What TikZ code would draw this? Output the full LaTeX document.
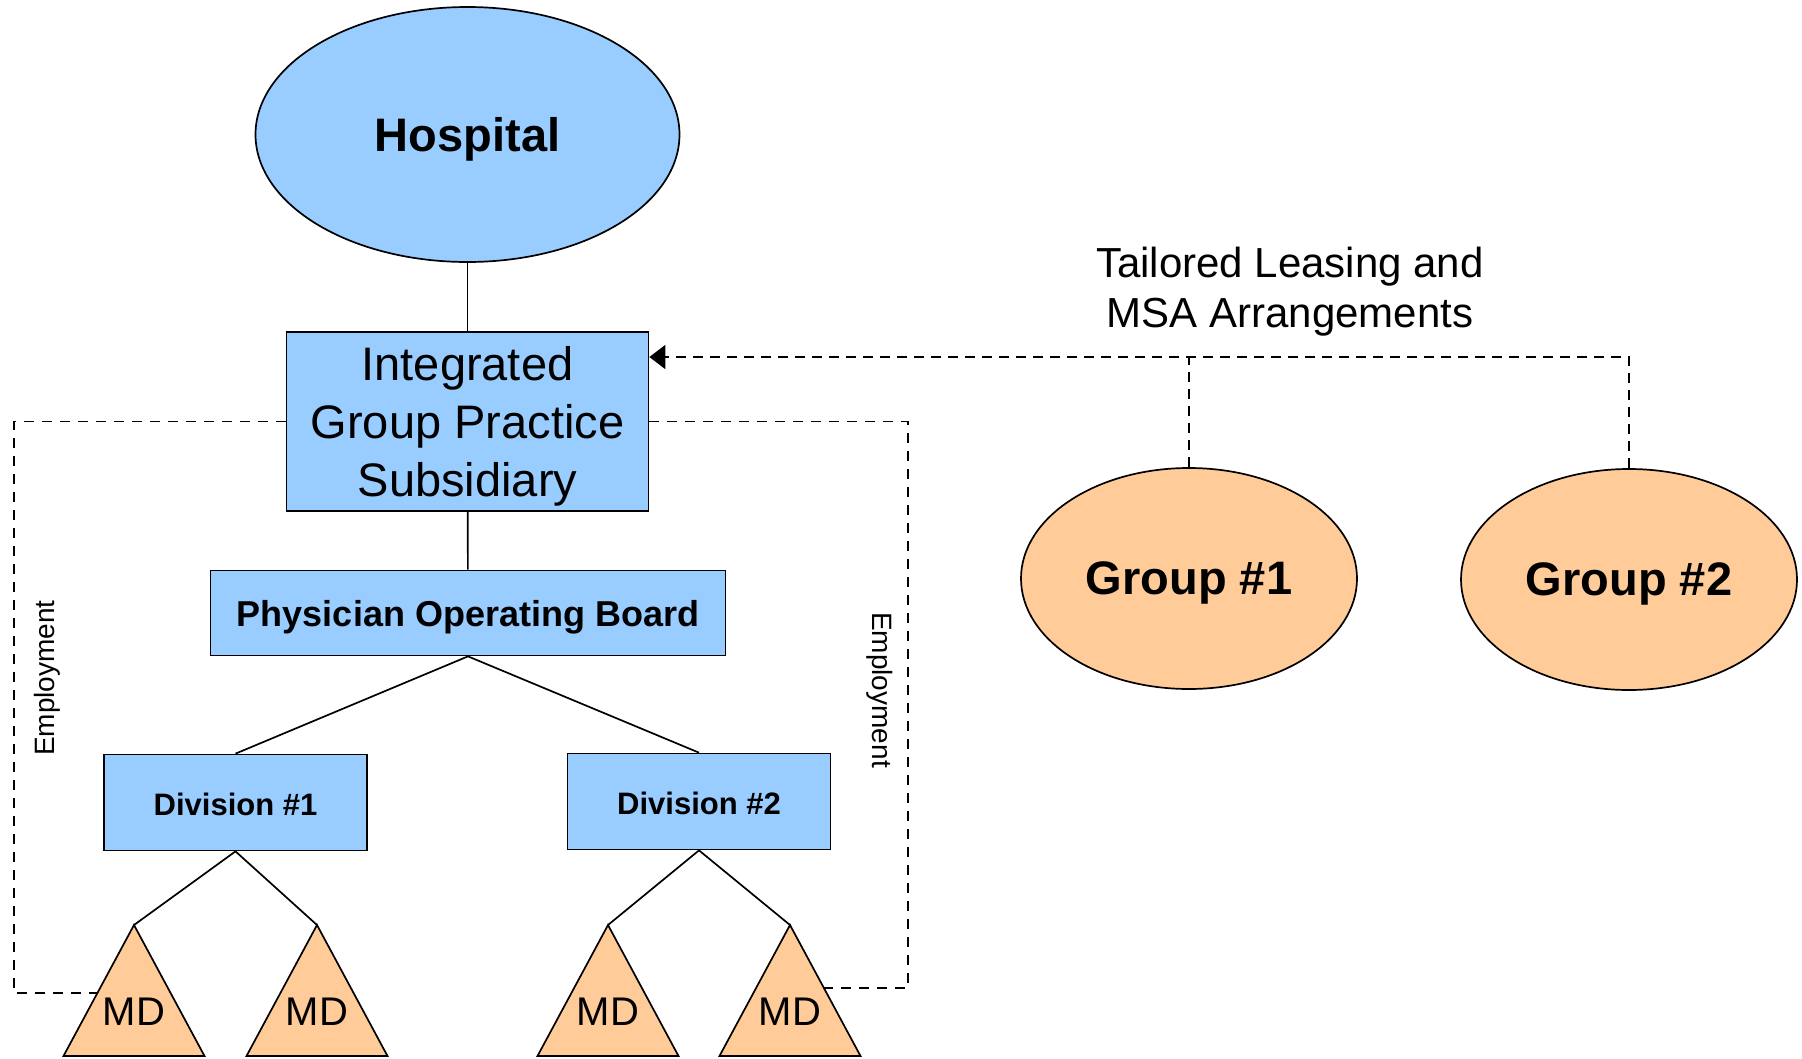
\documentclass[tikz,border=0pt]{standalone}
\usepackage{fontspec}
\setmainfont{Liberation Sans}
\usetikzlibrary{shapes.geometric,arrows.meta}

\definecolor{orgblue}{HTML}{99CCFF}
\definecolor{orgorange}{HTML}{FFCC99}
\newcommand{\sizedfont}[2]{\fontsize{#1}{#2}\selectfont}

\begin{document}
\begin{tikzpicture}[x=1pt, y=-1pt, line width=1.7pt, every node/.style={text depth=0pt},
    bluebox/.style={draw, fill=orgblue, rectangle, inner sep=0pt},
    divbox/.style={bluebox, minimum width=263pt, minimum height=96pt, text height=26pt, font=\sizedfont{31}{37}\bfseries},
    groupoval/.style={draw, fill=orgorange, ellipse, inner sep=0pt, minimum width=336pt, minimum height=221pt, font=\sizedfont{47}{56}\bfseries},
    mdtri/.style={draw, fill=orgorange, line join=miter},
    mdtext/.style={font=\sizedfont{40}{48}},
    emp/.style={dash pattern=on 10pt off 8pt},
    lease/.style={dash pattern=on 10pt off 7pt}]
    \useasboundingbox (0,0) rectangle (1802,1058);

    \node[draw, fill=orgblue, ellipse, inner sep=0pt, minimum width=424pt, minimum height=255pt,
          font=\sizedfont{47}{56}\bfseries] (hosp) at (467.5,134.5) {Hospital};
    \node[bluebox, minimum width=362pt, minimum height=179pt, align=center,
          font=\sizedfont{47}{58}] (igps) at (467.5,421.5) {Integrated\\Group Practice\\Subsidiary};
    \node[bluebox, minimum width=515pt, minimum height=85pt,
          font=\sizedfont{36}{43}\bfseries] (pob) at (468,613) {Physician Operating Board};
    \node[divbox] (div1) at (235.5,802.5) {Division \#1};
    \node[divbox] (div2) at (699,801.5) {Division \#2};
    \node[groupoval] (grp1) at (1189,578.5) {Group \#1};
    \node[groupoval] (grp2) at (1629,579.5) {Group \#2};

    \draw (hosp) -- (igps);
    \draw (igps) -- (pob);
    \draw (pob.south) -- (div1.north);
    \draw (pob.south) -- (div2.north);

    \draw[emp] (igps.west) -| (14,993) -- (134,993);
    \draw[emp] (igps.east) -| (908,988) -- (790,988);
    \node[rotate=90, font=\sizedfont{28}{34}] (empl) at (44,678) {Employment};
    \node[rotate=-90, font=\sizedfont{28}{34}] (empr) at (883,690) {Employment};

    \foreach \n/\x in {1/134, 2/317, 3/608, 4/790} {
        \filldraw[mdtri] (\x,925) coordinate (md\n) -- ++(70.5,131) -- ++(-141,0) -- cycle;
        \node[mdtext] (mdl\n) at (\x,1012) {MD};
    }
    \draw (div1.south) -- (md1);
    \draw (div1.south) -- (md2);
    \draw (div2.south) -- (md3);
    \draw (div2.south) -- (md4);

    \coordinate (msa) at (1629,357);
    \draw[lease, -{Triangle[length=16pt,width=24pt]}] (grp2.north) |- (igps.east |- msa);
    \draw[lease] (grp1.north) -- (grp1.north |- msa);
    \node[align=center, font=\sizedfont{42}{50}] (tailored) at (1290,287) {Tailored Leasing and\\MSA Arrangements};
\end{tikzpicture}
\end{document}
